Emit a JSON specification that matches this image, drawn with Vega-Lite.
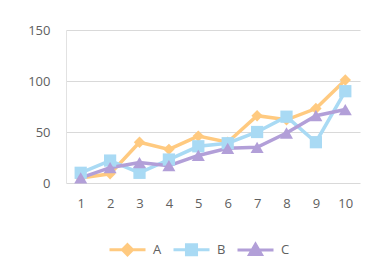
{
  "$schema": "https://vega.github.io/schema/vega-lite/v6.json",
  "width": 294,
  "height": 153,
  "autosize": {"type": "none"},
  "padding": {"left": 66, "top": 30, "right": 16, "bottom": 92},
  "background": "white",
  "config": {
    "font": "Open Sans",
    "view": {"stroke": null},
    "axis": {"labelColor": "#606060", "labelFontSize": 13, "ticks": false, "title": null}
  },
  "data": {
    "values": [
      {"x": 1, "s": "A", "v": 5}, {"x": 2, "s": "A", "v": 9}, {"x": 3, "s": "A", "v": 40}, {"x": 4, "s": "A", "v": 33}, {"x": 5, "s": "A", "v": 46}, {"x": 6, "s": "A", "v": 40}, {"x": 7, "s": "A", "v": 66}, {"x": 8, "s": "A", "v": 62}, {"x": 9, "s": "A", "v": 73}, {"x": 10, "s": "A", "v": 101},
      {"x": 1, "s": "B", "v": 10}, {"x": 2, "s": "B", "v": 22}, {"x": 3, "s": "B", "v": 10}, {"x": 4, "s": "B", "v": 23}, {"x": 5, "s": "B", "v": 36}, {"x": 6, "s": "B", "v": 39}, {"x": 7, "s": "B", "v": 50}, {"x": 8, "s": "B", "v": 65}, {"x": 9, "s": "B", "v": 40}, {"x": 10, "s": "B", "v": 90},
      {"x": 1, "s": "C", "v": 5}, {"x": 2, "s": "C", "v": 15}, {"x": 3, "s": "C", "v": 20}, {"x": 4, "s": "C", "v": 17}, {"x": 5, "s": "C", "v": 27}, {"x": 6, "s": "C", "v": 34}, {"x": 7, "s": "C", "v": 35}, {"x": 8, "s": "C", "v": 49}, {"x": 9, "s": "C", "v": 66}, {"x": 10, "s": "C", "v": 72}
    ]
  },
  "encoding": {
    "x": {
      "field": "x", "type": "ordinal",
      "scale": {"type": "point", "padding": 0.5},
      "axis": {"labelAngle": 0, "domain": false, "grid": false, "labelPadding": 14}
    },
    "y": {
      "field": "v", "type": "quantitative",
      "scale": {"domain": [0, 150], "nice": false},
      "axis": {"values": [0, 50, 100, 150], "domain": true, "domainColor": "#e2e2e2", "gridColor": "#d9d9d9", "labelPadding": 16}
    },
    "color": {
      "field": "s", "type": "nominal",
      "scale": {"domain": ["A", "B", "C"], "range": ["#FFCA80", "#A9DAF4", "#B29FD8"]},
      "legend": {
        "title": null,
        "orient": "none",
        "legendX": 42,
        "legendY": 200,
        "direction": "horizontal",
        "symbolSize": 1296,
        "labelFontSize": 13,
        "labelColor": "#606060",
        "labelOffset": 6,
        "columnPadding": 5,
        "encode": {
          "symbols": {
            "update": {
              "shape": {"signal": "datum.value == 'A' ? 'M-1,0H1M0,-0.28L0.28,0L0,0.28L-0.28,0Z' : datum.value == 'B' ? 'M-1,0H1M-0.28,-0.28H0.28V0.28H-0.28Z' : 'M-1,0H1M0,-0.33L0.33,0.24L-0.33,0.24Z'"},
              "size": {"value": 1296},
              "fill": {"scale": "color", "field": "value"},
              "stroke": {"scale": "color", "field": "value"},
              "strokeWidth": {"value": 3},
              "opacity": {"value": 1}
            }
          }
        }
      }
    }
  },
  "layer": [
    {"mark": {"type": "line", "strokeWidth": 3.5}},
    {
      "transform": [{"filter": "datum.s == 'A'"}],
      "mark": {"type": "point", "filled": true, "opacity": 1, "shape": "diamond", "size": 130}
    },
    {
      "transform": [{"filter": "datum.s == 'B'"}],
      "mark": {"type": "point", "filled": true, "opacity": 1, "shape": "square", "size": 150}
    },
    {
      "transform": [{"filter": "datum.s == 'C'"}],
      "mark": {"type": "point", "filled": true, "opacity": 1, "shape": "triangle-up", "size": 170}
    }
  ]
}
